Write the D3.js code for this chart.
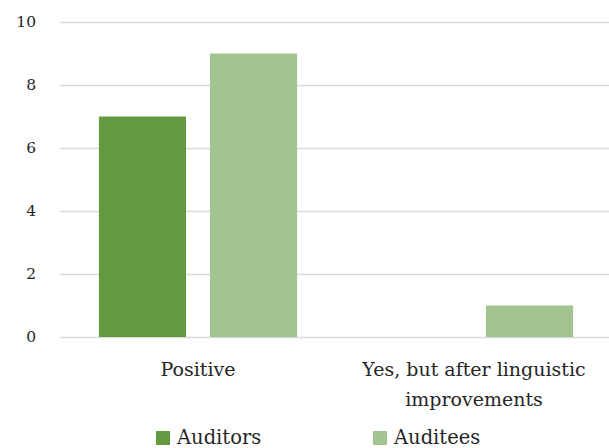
<!DOCTYPE html>
<html><head><meta charset="utf-8">
<script src="https://cdn.jsdelivr.net/npm/d3@7"></script>
<style>body{margin:0;background:#fff}svg{display:block}text{font-family:"DejaVu Serif",serif;fill:#262626}</style>
</head><body><svg id="c" width="609" height="448"></svg>
<script>
const categories = [["Positive"], ["Yes, but after linguistic", "improvements"]];
const seriesNames = ["Auditors", "Auditees"];
const auditors = [7, 0];
const auditees = [9, 1];
const yTicks = [0, 2, 4, 6, 8, 10];
const colors = ["#629a3f", "#a2c48e"];

const svg = d3.select("#c");
const m = {l: 60, r: -3, t: 22, b: 111};
const W = 609, H = 448;
const x = d3.scaleBand().domain(d3.range(categories.length)).range([m.l, W - m.r]).paddingInner(0).paddingOuter(0);
const bw = x.bandwidth();
const x1 = d3.scaleBand().domain(seriesNames).range([bw * 0.141, bw * 0.859]).paddingInner(0.216).paddingOuter(0);
const y = d3.scaleLinear().domain([0, 10]).range([H - m.b, m.t]);

const yAxis = svg.append("g").attr("transform", `translate(${m.l},0)`)
  .call(d3.axisLeft(y).tickValues(yTicks).tickSize(-(W - m.l)).tickPadding(24).tickFormat(d3.format("d")));
yAxis.select(".domain").remove();
yAxis.selectAll(".tick line").attr("stroke", "#d9d9d9").attr("stroke-width", 1.3);
yAxis.selectAll(".tick text").attr("font-size", 15.5).style("font-family", '"DejaVu Serif",serif').attr("fill", "#262626");

const data = categories.map((c, i) => ({i, vals: [auditors[i], auditees[i]]}));
const g = svg.append("g");
data.forEach(d => {
  d.vals.forEach((v, j) => {
    if (v > 0) g.append("rect")
      .attr("x", x(d.i) + x1(seriesNames[j]))
      .attr("y", y(v))
      .attr("width", x1.bandwidth())
      .attr("height", y(0) - y(v))
      .attr("fill", colors[j]);
  });
});

const xl = svg.append("g");
categories.forEach((lines, i) => {
  lines.forEach((t, k) => {
    xl.append("text").attr("x", x(i) + x.bandwidth() / 2).attr("y", 376 + k * 30)
      .attr("text-anchor", "middle").attr("font-size", 19).text(t);
  });
});

const leg = svg.append("g");
const legX = [156, 373];
seriesNames.forEach((s, j) => {
  leg.append("rect").attr("x", legX[j]).attr("y", 431).attr("width", 14).attr("height", 14).attr("fill", colors[j]);
  leg.append("text").attr("x", legX[j] + 21).attr("y", 444).attr("font-size", 19.5).text(s);
});
</script></body></html>
